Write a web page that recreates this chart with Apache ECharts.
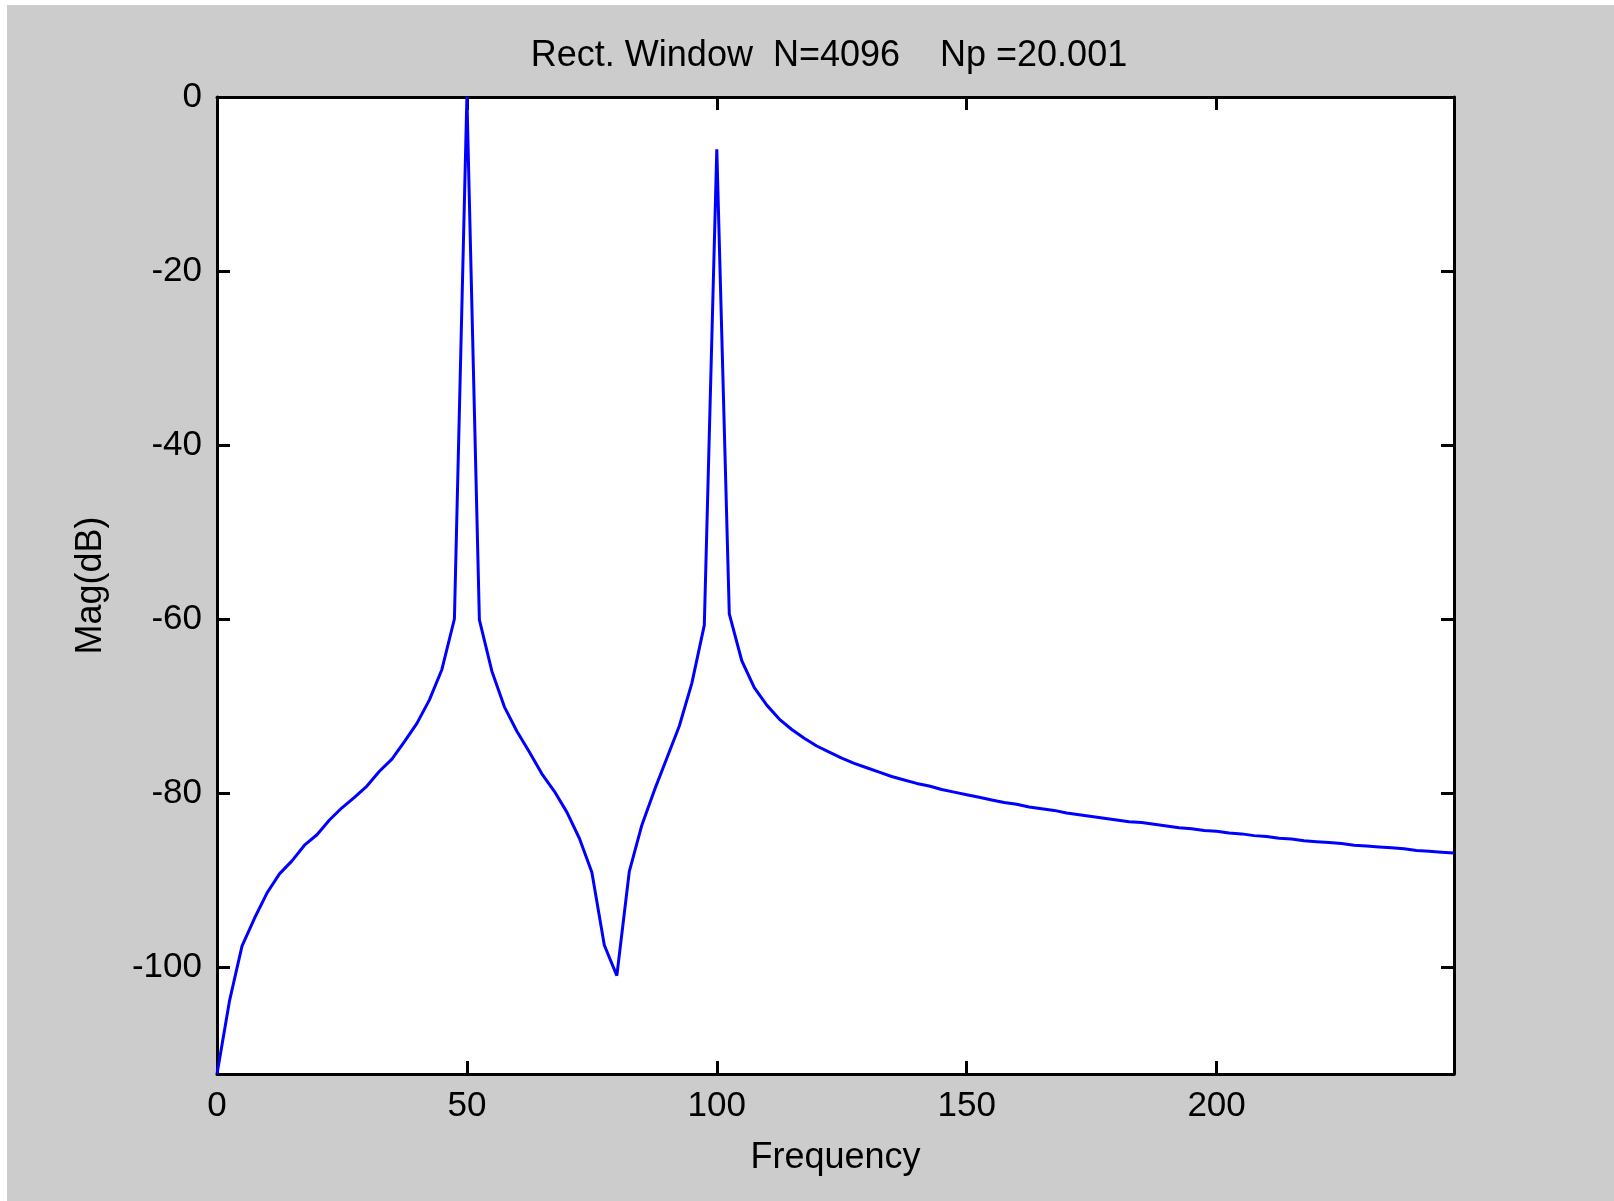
<!DOCTYPE html>
<html>
<head>
<meta charset="utf-8">
<script src="https://cdn.jsdelivr.net/npm/echarts@6/dist/echarts.min.js"></script>
<style>
  html, body { margin: 0; padding: 0; background: #ffffff; }
  #bg { position: absolute; left: 7px; top: 5px; width: 1607px; height: 1196px; background: #cccccc; }
  #chart { position: absolute; left: 0; top: 0; width: 1614px; height: 1201px; }
</style>
</head>
<body>
<div id="bg"></div>
<div id="chart"></div>
<script>
const titleText = 'Rect. Window  N=4096    Np =20.001';
const xName = 'Frequency';
const yName = 'Mag(dB)';
const xTicks = [0, 50, 100, 150, 200];
const yTicks = [0, -20, -40, -60, -80, -100];
const xMin = 0, xMax = 247.5;
const yMin = -112.3, yMax = 0;

const frequency = [
  0, 2.5, 5, 7.5, 10, 12.5, 15, 17.5, 20, 22.5,
  25, 27.5, 30, 32.5, 35, 37.5, 40, 42.5, 45, 47.5,
  50, 52.5, 55, 57.5, 60, 62.5, 65, 67.5, 70, 72.5,
  75, 77.5, 80, 82.5, 85, 87.5, 90, 92.5, 95, 97.5,
  100, 102.5, 105, 107.5, 110, 112.5, 115, 117.5, 120, 122.5,
  125, 127.5, 130, 132.5, 135, 137.5, 140, 142.5, 145, 147.5,
  150, 152.5, 155, 157.5, 160, 162.5, 165, 167.5, 170, 172.5,
  175, 177.5, 180, 182.5, 185, 187.5, 190, 192.5, 195, 197.5,
  200, 202.5, 205, 207.5, 210, 212.5, 215, 217.5, 220, 222.5,
  225, 227.5, 230, 232.5, 235, 237.5, 240, 242.5, 245, 247.5
];
const magDb = [
  -112.3, -103.9, -97.6, -94.4, -91.5, -89.3, -87.8, -86.0, -84.8, -83.1,
  -81.7, -80.5, -79.2, -77.5, -76.1, -74.1, -72.0, -69.3, -65.8, -60.0,
  0.0, -60.1, -66.0, -70.1, -72.9, -75.3, -77.8, -79.8, -82.2, -85.2,
  -89.1, -97.5, -101.0, -89.0, -83.7, -79.7, -76.0, -72.3, -67.4, -60.7,
  -6.0, -59.4, -64.8, -67.9, -69.9, -71.5, -72.7, -73.7, -74.6, -75.3,
  -76.0, -76.6, -77.1, -77.6, -78.1, -78.5, -78.9, -79.2, -79.6, -79.9,
  -80.2, -80.5, -80.8, -81.1, -81.3, -81.6, -81.8, -82.0, -82.3, -82.5,
  -82.7, -82.9, -83.1, -83.3, -83.4, -83.6, -83.8, -84.0, -84.1, -84.3,
  -84.4, -84.6, -84.7, -84.9, -85.0, -85.2, -85.3, -85.5, -85.6, -85.7,
  -85.8, -86.0, -86.1, -86.2, -86.3, -86.4, -86.6, -86.7, -86.8, -86.9
];

const FONT = "'Liberation Sans', Arial, Helvetica, sans-serif";
const chart = echarts.init(document.getElementById('chart'), null, { renderer: 'canvas' });

const lineStyle = { color: '#000000', width: 3 };
function xAxisDef(pos, showLabels) {
  return {
    type: 'value', position: pos, min: xMin, max: xMax,
    name: showLabels ? xName : '', nameLocation: 'middle', nameGap: 66,
    nameTextStyle: { fontFamily: FONT, fontSize: 36, color: '#000' },
    axisLine: { show: true, onZero: false, lineStyle: lineStyle },
    axisTick: { show: true, inside: true, length: 13, customValues: xTicks, lineStyle: lineStyle },
    axisLabel: { show: showLabels, customValues: xTicks, margin: 15,
      fontFamily: FONT, fontSize: 35, color: '#000' },
    splitLine: { show: false }
  };
}
function yAxisDef(pos, showLabels) {
  return {
    type: 'value', position: pos, min: yMin, max: yMax,
    name: showLabels ? yName : '', nameLocation: 'middle', nameGap: 108,
    nameTextStyle: { fontFamily: FONT, fontSize: 36, color: '#000' },
    axisLine: { show: true, onZero: false, lineStyle: lineStyle },
    axisTick: { show: true, inside: true, length: 13, customValues: yTicks, lineStyle: lineStyle },
    axisLabel: { show: showLabels, customValues: yTicks, margin: 15,
      fontFamily: FONT, fontSize: 35, color: '#000' },
    splitLine: { show: false }
  };
}

chart.setOption({
  animation: false,
  backgroundColor: 'transparent',
  title: {
    text: titleText, left: 824, top: 33, textAlign: 'center',
    textStyle: { fontFamily: FONT, fontSize: 36, fontWeight: 'normal', color: '#000' }
  },
  grid: { left: 217, top: 97, right: 160, bottom: 127, show: true,
    backgroundColor: '#ffffff', borderWidth: 0, containLabel: false },
  xAxis: [xAxisDef('bottom', true), xAxisDef('top', false)],
  yAxis: [yAxisDef('left', true), yAxisDef('right', false)],
  series: [{
    type: 'line', xAxisIndex: 0, yAxisIndex: 0,
    data: frequency.map((f, i) => [f, magDb[i]]),
    showSymbol: false, symbol: 'none', smooth: false,
    lineStyle: { color: '#0000ff', width: 3 },
    clip: true
  }]
});
</script>
</body>
</html>
